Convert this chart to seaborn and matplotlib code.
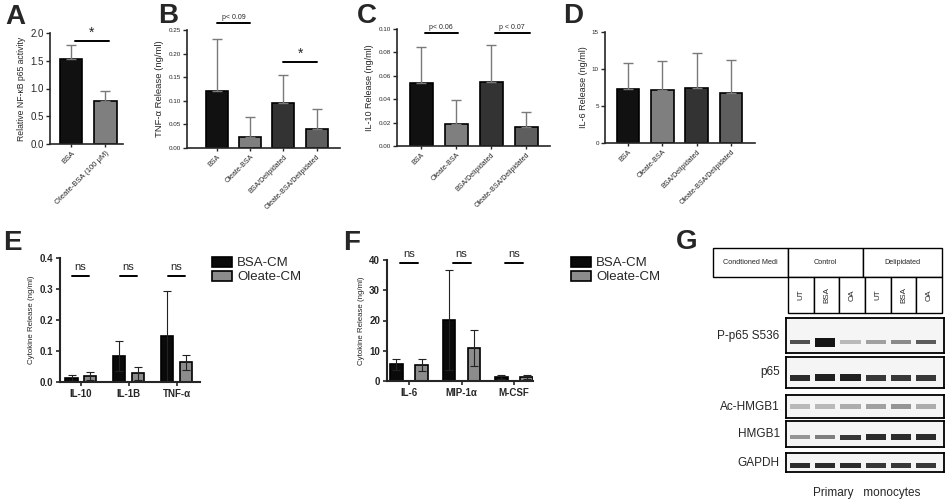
import numpy as np
import pandas as pd
import matplotlib
matplotlib.use("Agg")
import matplotlib.pyplot as plt
import seaborn as sns

# ---- data ----
a_groups = ["BSA", "Oleate-BSA (100 \u03bcM)"]
a_mean = [1.54, 0.78]
a_err = [0.24, 0.18]

cm_groups = ["BSA", "Oleate-BSA", "BSA/Delipidated", "Oleate-BSA/Delipidated"]
tnf_mean = [0.121, 0.023, 0.096, 0.041]
tnf_err = [0.109, 0.042, 0.059, 0.041]
il10_mean = [0.054, 0.019, 0.055, 0.016]
il10_err = [0.031, 0.020, 0.031, 0.013]
il6_mean = [7.3, 7.2, 7.4, 6.7]
il6_err = [3.5, 3.9, 4.7, 4.5]

conditions = ["BSA-CM", "Oleate-CM"]
e_cytokines = ["IL-10", "IL-1B", "TNF-\u03b1"]
e_bsa = [0.012, 0.083, 0.147]
e_bsa_err = [0.010, 0.048, 0.145]
e_ole = [0.019, 0.029, 0.063]
e_ole_err = [0.012, 0.021, 0.023]

f_cytokines = ["IL-6", "MIP-1\u03b1", "M-CSF"]
f_bsa = [5.5, 20.3, 1.3]
f_bsa_err = [1.8, 16.5, 0.7]
f_ole = [5.3, 10.8, 1.3]
f_ole_err = [1.9, 6.0, 0.8]

# western blot (panel G): band darkness and thickness per lane
header_cells = ["Condtioned Medi", "Control", "Delipidated"]
lanes = ["UT", "BSA", "OA", "UT", "BSA", "OA"]
blot_names = ["P-p65 S536", "p65", "Ac-HMGB1", "HMGB1", "GAPDH"]
blot_dark = [
    [0.75, 1.00, 0.30, 0.40, 0.50, 0.70],
    [0.90, 0.95, 0.95, 0.85, 0.85, 0.85],
    [0.30, 0.30, 0.35, 0.40, 0.45, 0.35],
    [0.45, 0.55, 0.85, 0.90, 0.90, 0.90],
    [0.90, 0.90, 0.90, 0.85, 0.85, 0.85],
]
blot_thick = [
    [0.12, 0.26, 0.10, 0.10, 0.12, 0.13],
    [0.20, 0.22, 0.22, 0.20, 0.20, 0.20],
    [0.18, 0.18, 0.20, 0.20, 0.20, 0.18],
    [0.14, 0.16, 0.20, 0.22, 0.22, 0.22],
    [0.28, 0.28, 0.28, 0.26, 0.26, 0.26],
]

sns.set_style("ticks")
plt.rcParams["font.family"] = ["Liberation Sans", "DejaVu Sans"]
plt.rcParams["axes.linewidth"] = 1.2

W, H = 948, 503
fig = plt.figure(figsize=(W / 100, H / 100), dpi=100)


def px_axes(x0, y0, x1, y1):
    return fig.add_axes([x0 / W, 1 - y1 / H, (x1 - x0) / W, (y1 - y0) / H])


def letter(x, y, s):
    fig.text(x / W, 1 - y / H, s, fontsize=20, fontweight="bold", ha="center", va="center")


def bar_panel(ax, labels, means, errs, colors, ylim, yticks, fmt, ylabel,
              xlim, tick_fs, ylab_fs, xlab_fs):
    sns.barplot(x=labels, y=means, hue=labels, palette=colors, width=0.66,
                edgecolor="black", linewidth=1.2, saturation=1, legend=False, ax=ax)
    ax.errorbar(np.arange(len(means)), means, yerr=[np.zeros(len(errs)), errs],
                fmt="none", ecolor="#7a7a7a", elinewidth=1, capsize=3.5, capthick=1)
    ax.set_xlim(*xlim)
    ax.set_ylim(*ylim)
    ax.set_yticks(yticks)
    ax.set_yticklabels([fmt.format(v) for v in yticks])
    ax.set_ylabel(ylabel, fontsize=ylab_fs, labelpad=3)
    ax.tick_params(axis="y", labelsize=tick_fs, length=3, width=1, pad=1.5)
    ax.tick_params(axis="x", length=2.5, width=1, pad=1.5)
    ax.set_xticks(np.arange(len(labels)))
    ax.set_xticklabels(labels, rotation=45, ha="right", rotation_mode="anchor",
                       fontsize=xlab_fs)
    sns.despine(ax=ax)


def sig(ax, x0, x1, y, text, dy, fs):
    ax.plot([x0, x1], [y, y], color="black", lw=1.4, clip_on=False)
    ax.text((x0 + x1) / 2, y + dy, text, ha="center", va="bottom", fontsize=fs, clip_on=False)


grays4 = ["#111111", "#7f7f7f", "#333333", "#5e5e5e"]

# ---- A ----
ax = px_axes(50, 33, 123, 144)
bar_panel(ax, a_groups, a_mean, a_err, ["#111111", "#7f7f7f"], (0, 2.0),
          [0, 0.5, 1.0, 1.5, 2.0], "{:.1f}", "Relative NF-\u03baB p65 activity",
          (-0.62, 1.52), 7, 6.2, 5.5)
sig(ax, 0.1, 1.1, 1.85, "*", 0.02, 10)
letter(15, 17, "A")

# ---- B ----
ax = px_axes(187, 30, 340, 148)
bar_panel(ax, cm_groups, tnf_mean, tnf_err, grays4, (0, 0.25),
          [0, 0.05, 0.10, 0.15, 0.20, 0.25], "{:.2f}", "TNF-\u03b1 Release (ng/ml)",
          (-0.9, 3.7), 4.5, 6.8, 5)
sig(ax, 0, 1, 0.265, "p< 0.09", 0.005, 5)
sig(ax, 2, 3, 0.182, "*", 0.003, 10)
letter(168, 16, "B")

# ---- C ----
ax = px_axes(397, 29, 550, 146)
bar_panel(ax, cm_groups, il10_mean, il10_err, grays4, (0, 0.10),
          [0, 0.02, 0.04, 0.06, 0.08, 0.10], "{:.2f}", "IL-10 Release (ng/ml)",
          (-0.69, 3.68), 4.5, 6.5, 5)
sig(ax, 0.1, 1.05, 0.0966, "p< 0.06", 0.002, 5)
sig(ax, 2.1, 3.1, 0.0966, "p < 0.07", 0.002, 5)
letter(367, 16, "C")

# ---- D ----
ax = px_axes(605, 32, 755, 143)
bar_panel(ax, cm_groups, il6_mean, il6_err, grays4, (0, 15),
          [0, 5, 10, 15], "{:d}", "IL-6 Release (ng/ml)",
          (-0.67, 3.7), 4.5, 6.5, 5)
letter(573, 16, "D")


# ---- E / F grouped panels ----
def grouped_panel(ax, cyto, bsa, bsa_err, ole, ole_err, ylim, yticks, fmt,
                  xlim, width, gap, off, legend_xy):
    df = pd.DataFrame({
        "cytokine": cyto * 2,
        "condition": [conditions[0]] * len(cyto) + [conditions[1]] * len(cyto),
        "value": bsa + ole,
    })
    sns.barplot(data=df, x="cytokine", y="value", hue="condition", hue_order=conditions,
                palette=["#0a0a0a", "#8c8c8c"], width=width, gap=gap, saturation=1,
                edgecolor="black", linewidth=1.2, errorbar=None, ax=ax)
    pos = np.arange(len(cyto))
    ax.errorbar(pos - off, bsa, yerr=bsa_err, fmt="none", ecolor="#222222",
                elinewidth=0.8, capsize=3, capthick=0.8)
    ax.errorbar(pos + off, ole, yerr=ole_err, fmt="none", ecolor="#222222",
                elinewidth=0.8, capsize=3, capthick=0.8)
    handles, labs = ax.get_legend_handles_labels()
    ax.legend(handles, labs, loc="upper left", bbox_to_anchor=legend_xy,
              bbox_transform=fig.transFigure, frameon=False, fontsize=9.5,
              handlelength=1.5, handleheight=0.75, labelspacing=0.12,
              borderpad=0, borderaxespad=0, handletextpad=0.4)
    ax.set_xlim(*xlim)
    ax.set_ylim(*ylim)
    ax.set_yticks(yticks)
    ax.set_yticklabels([fmt.format(v) for v in yticks], fontweight="bold")
    ax.set_xticks(pos)
    ax.set_xticklabels(cyto, fontweight="bold")
    ax.set_xlabel("")
    ax.set_ylabel("Cytokine Release (ng/ml)", fontsize=5.7, labelpad=3)
    ax.tick_params(labelsize=7, length=3, width=1.2, pad=2)
    for s in ("left", "bottom"):
        ax.spines[s].set_linewidth(1.5)
    sns.despine(ax=ax)


ax = px_axes(60, 258, 200, 382)
grouped_panel(ax, e_cytokines, e_bsa, e_bsa_err, e_ole, e_ole_err, (0, 0.4),
              [0, 0.1, 0.2, 0.3, 0.4], "{:.1f}", (-0.43, 2.49), 0.76, 0.34, 0.19,
              (212 / W, 1 - 257 / H))
for i in range(3):
    sig(ax, i - 0.17, i + 0.17, 0.342, "ns", 0.012, 8)
letter(12, 243, "E")

ax = px_axes(387, 260, 533, 381)
grouped_panel(ax, f_cytokines, f_bsa, f_bsa_err, f_ole, f_ole_err, (0, 40),
              [0, 10, 20, 30, 40], "{:d}", (-0.42, 2.36), 0.96, 0.5, 0.24,
              (571 / W, 1 - 257 / H))
for i in range(3):
    sig(ax, i - 0.17, i + 0.17, 39, "ns", 1.2, 8)
letter(352, 243, "F")

# ---- G: western blot ----
letter(687, 242, "G")
tax = px_axes(713, 248, 942, 277)
tax.axis("off")
t1 = tax.table(cellText=[header_cells], colWidths=[75 / 229, 75 / 229, 79 / 229],
               cellLoc="center", bbox=[0, 0, 1, 1])
t1.auto_set_font_size(False)
t1.set_fontsize(5.2)
for c in t1.get_celld().values():
    c.set_linewidth(1.0)

lax = px_axes(788, 277, 942, 313)
lax.axis("off")
t2 = lax.table(cellText=[lanes], cellLoc="center", bbox=[0, 0, 1, 1])
t2.auto_set_font_size(False)
t2.set_fontsize(5.8)
for c in t2.get_celld().values():
    c.set_linewidth(1.0)
    c.get_text().set_rotation(90)

blot_boxes = [(318, 353, 0.31), (357, 388, 0.33), (395, 418, 0.50),
              (421, 447, 0.38), (453, 472, 0.33)]
for name, dark, thick, (y0, y1, yc) in zip(blot_names, blot_dark, blot_thick, blot_boxes):
    bax = px_axes(786, y0, 944, y1)
    bax.set_facecolor("#f5f5f5")
    bax.bar(np.arange(6), thick, bottom=[yc - t / 2 for t in thick], width=0.8,
            color=[str(round(1 - 0.92 * d, 3)) for d in dark], linewidth=0)
    bax.set_xlim(-0.55, 5.7)
    bax.set_ylim(0, 1)
    bax.set_xticks([])
    bax.set_yticks([])
    for s in bax.spines.values():
        s.set_linewidth(1.3)
        s.set_color("black")
    bax.text(-0.04, 0.5, name, transform=bax.transAxes, ha="right", va="center",
             fontsize=8.5)

fig.text(867 / W, 1 - 493 / H, "Primary   monocytes", ha="center", va="center", fontsize=8.5)

fig.savefig("out.png", dpi=100)
